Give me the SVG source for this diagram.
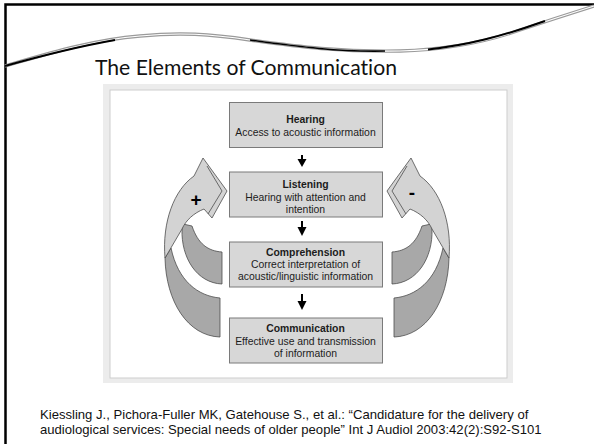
<svg xmlns="http://www.w3.org/2000/svg" width="594" height="444" viewBox="0 0 594 444">
<style>
.box{fill:#d7d7d7;stroke:#7a7a7a;stroke-width:1}
.bt{font-family:"Liberation Sans",Arial,sans-serif;font-size:10.4px;font-weight:bold;fill:#1c1c1c;text-anchor:middle}
.bs{font-family:"Liberation Sans",Arial,sans-serif;font-size:10.4px;fill:#1c1c1c;text-anchor:middle}
.lt{fill:#d3d3d3;stroke:#4d4d4d;stroke-width:0.8;stroke-linejoin:round}
.dk{fill:#a8a8a8;stroke:#4d4d4d;stroke-width:0.8;stroke-linejoin:round}
.bev{fill:none;stroke:#4d4d4d;stroke-width:0.8;stroke-linejoin:round}
.shaft{stroke:#000;stroke-width:2}
.head{fill:#000}
.sign{font-family:"Liberation Sans",Arial,sans-serif;font-size:19px;font-weight:bold;fill:#000;text-anchor:middle}
.cite{font-family:"Liberation Sans",Arial,sans-serif;font-size:13.1px;fill:#111}
</style>
<defs>
<g id="loop">
<path class="dk" d="M182,229 C181,258 197,283 222,284 L222,252 C208,251 198,244 192,226 L183,224 Z"/>
<path class="dk" d="M165,258 C166,302 188,336 220,337 L220,298 C198,296 178,281 171,248 Z"/>
<path class="lt" d="M165,258 C162,222 174,190 194,176 L203,158 L227,191 L212,218 L204,209 C194,213 186,220 182,229 Z"/>
<path class="bev" d="M207,166 L222,191 L208,214"/>
</g>
</defs>
<rect width="594" height="444" fill="#fff"/>
<g id="slide-border">
<path d="M5.5,444 L5.5,4.5 L594,4.5" fill="none" stroke="#000" stroke-width="2.5"/>
</g>
<g id="wave">
<path d="M5,66 C40,56 90,40 140,36 C180,32 210,34 250,40 C300,47 340,52 400,51 C440,50 480,44 520,30 C550,20 575,12 594,6" fill="none" stroke="#9a9a9a" stroke-width="3.4"/>
<path d="M5,66 C40,56 90,40 140,36 C180,32 210,34 250,40 C300,47 340,52 400,51 C440,50 480,44 520,30 C550,20 575,12 594,6" fill="none" stroke="#fff" stroke-width="1.1"/>
<path d="M5,66 C30,59 70,48 115,40" fill="none" stroke="#000" stroke-width="2"/>
<path d="M250,40 C300,47 340,52 385,51" fill="none" stroke="#000" stroke-width="1.6"/>
<path d="M428,49.5 C468,45 500,37 545,21" fill="none" stroke="#000" stroke-width="2"/>
</g>
<text x="95" y="75" font-family="Lato,'Open Sans',sans-serif" font-size="21" fill="#111" style="font-variant-ligatures:none" textLength="302" lengthAdjust="spacingAndGlyphs">The Elements of Communication</text>
<g id="figure-frame">
<rect x="103" y="84" width="410" height="299" fill="#ececec"/>
<rect x="110" y="90" width="397" height="288" fill="#fff" stroke="#cdcdcd" stroke-width="1"/>
</g>
<g id="connectors">
<line class="shaft" x1="302" y1="155" x2="302" y2="160"/>
<path class="head" d="M297.5,159 L306.5,159 L302,167 Z"/>
<line class="shaft" x1="302" y1="221" x2="302" y2="228"/>
<path class="head" d="M297.5,227 L306.5,227 L302,236 Z"/>
<line class="shaft" x1="302" y1="294" x2="302" y2="302"/>
<path class="head" d="M297.5,301 L306.5,301 L302,310 Z"/>
<g id="feedback-plus"><use href="#loop"/><text class="sign" x="196" y="206">+</text></g>
<g id="feedback-minus"><use href="#loop" transform="translate(614,0) scale(-1,1)"/><text class="sign" x="412" y="199">-</text></g>
</g>
<g id="hearing">
<rect class="box" x="229.5" y="102.5" width="153" height="45"/>
<text class="bt" x="305.5" y="123">Hearing</text>
<text class="bs" x="305.5" y="135.5">Access to acoustic information</text>
</g>
<g id="listening">
<rect class="box" x="229.5" y="172" width="153" height="45"/>
<text class="bt" x="305.5" y="187.5">Listening</text>
<text class="bs" x="305.5" y="201">Hearing with attention and</text>
<text class="bs" x="305.5" y="213">intention</text>
</g>
<g id="comprehension">
<rect class="box" x="229.5" y="242" width="153" height="45"/>
<text class="bt" x="305.5" y="256">Comprehension</text>
<text class="bs" x="305.5" y="268">Correct interpretation of</text>
<text class="bs" x="305.5" y="280">acoustic/linguistic information</text>
</g>
<g id="communication">
<rect class="box" x="229.5" y="318" width="153" height="45"/>
<text class="bt" x="305.5" y="332">Communication</text>
<text class="bs" x="305.5" y="344.5">Effective use and transmission</text>
<text class="bs" x="305.5" y="357">of information</text>
</g>
<g id="citation">
<text class="cite" x="40" y="419">Kiessling J., Pichora-Fuller MK, Gatehouse S., et al.: “Candidature for the delivery of</text>
<text class="cite" x="40" y="434">audiological services: Special needs of older people” Int J Audiol 2003:42(2):S92-S101</text>
</g>
</svg>
